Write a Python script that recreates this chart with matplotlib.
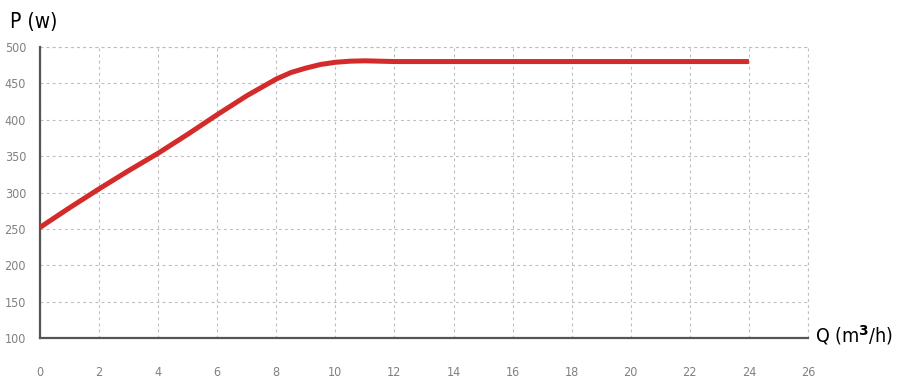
import matplotlib.pyplot as plt
import numpy as np

# flow Q (m3/h) vs power P (w)
q = [0, 1, 2, 3, 4, 5, 6, 7, 8, 8.5, 9, 9.5, 10, 10.5, 11, 12, 14, 16, 18, 20, 22, 24]
p = [252, 279, 305, 330, 354, 380, 407, 433, 456, 465, 471, 476, 479, 480.5, 481, 480,
     480, 480, 480, 480, 480, 480]

x_ticks = list(range(0, 27, 2))
y_ticks = list(range(100, 501, 50))

fig = plt.figure(figsize=(8.98, 3.85), dpi=100)
ax = fig.add_axes([40 / 898, 47 / 385, 768 / 898, 291 / 385])

ax.plot(q, p, color="#d42a2a", lw=3.6, solid_capstyle="butt", zorder=3)

ax.set_xlim(0, 26)
ax.set_ylim(100, 500)
ax.set_xticks(x_ticks)
ax.set_yticks(y_ticks)
ax.grid(True, ls=(0, (2.5, 3)), color="#bdbdbd", lw=0.8)

for s in ["top", "right"]:
    ax.spines[s].set_visible(False)
for s in ["left", "bottom"]:
    ax.spines[s].set_color("#555555")
    ax.spines[s].set_linewidth(1.6)
# dashed frame on top and right
ax.axhline(500, ls=(0, (2.5, 3)), color="#bdbdbd", lw=0.8, clip_on=False)
ax.axvline(26, ls=(0, (2.5, 3)), color="#bdbdbd", lw=0.8, clip_on=False)

ax.tick_params(length=0, labelsize=9, labelcolor="#808080")
ax.tick_params(axis="x", pad=20)
ax.tick_params(axis="y", pad=10)
for lab in ax.get_xticklabels() + ax.get_yticklabels():
    lab.set_fontstretch("condensed")

fig.text(10 / 898, 1 - 22 / 385, "P (w)", fontsize=15, va="center", ha="left",
         fontstretch="condensed")
fig.text(815 / 898, 1 - 335 / 385, "Q (m$^{\\mathbf{3}}$/h)", fontsize=14, va="center", ha="left",
         fontstretch="condensed")

fig.savefig("out.png", dpi=100, facecolor="white")
